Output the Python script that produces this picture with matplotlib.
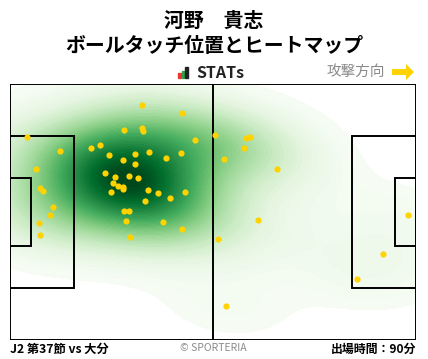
import matplotlib.pyplot as plt
import numpy as np
from matplotlib.patches import Rectangle, FancyArrow

plt.rcParams['font.family'] = ['Noto Sans CJK JP', 'DejaVu Sans']

# ball touch positions in metres (x along pitch, y from the top touchline)
touch_x = [34.2, 44.6, 4.5, 29.6, 34.2, 34.5, 47.9, 53.1, 13.0, 21.0, 23.3, 25.7,
           29.3, 32.4, 32.4, 36.0, 40.4, 44.3, 6.8, 24.6, 27.2, 30.9, 33.2, 7.8,
           8.6, 26.7, 28.0, 29.1, 29.3, 26.2, 35.8, 38.4, 45.3, 41.5, 35.0, 11.2,
           10.4, 29.6, 30.9, 7.6, 30.1, 39.6, 7.8, 44.6, 31.1, 53.7, 61.1, 62.1,
           60.6, 55.4, 69.1, 64.2, 55.8, 103.0, 96.5, 89.8]
touch_y = [5.7, 7.8, 14.0, 12.3, 11.8, 12.6, 14.9, 13.6, 17.9, 17.1, 16.3, 18.9,
           20.3, 18.7, 21.3, 18.1, 19.7, 18.4, 22.7, 23.7, 24.8, 24.5, 25.0, 27.7,
           28.5, 26.4, 27.2, 27.4, 28.0, 28.8, 28.2, 29.0, 28.8, 30.4, 31.2, 32.7,
           34.9, 33.8, 33.8, 37.0, 36.4, 36.7, 40.2, 38.6, 40.7, 41.3, 14.4, 14.2,
           17.1, 20.0, 22.7, 36.2, 59.1, 34.9, 45.2, 51.8]

L, W = 105.0, 68.0

fig = plt.figure(figsize=(4.28, 3.59), dpi=100)
ax = fig.add_axes([10 / 428, 19 / 359, 406 / 428, 256 / 359])

# gaussian kde, bandwidth a bit wider than scott's rule
pts = np.vstack([touch_x, touch_y])
n = pts.shape[1]
cov = np.cov(pts) * n ** (-2.0 / 6) * 1.6
inv = np.linalg.inv(cov)
gx, gy = np.meshgrid(np.linspace(0, L, 220), np.linspace(0, W, 150))
grid = np.vstack([gx.ravel(), gy.ravel()])
d = grid[:, :, None] - pts[:, None, :]
q = np.einsum('ijk,il,ljk->jk', d, inv, d)
dens = np.exp(-0.5 * q).sum(axis=1).reshape(gx.shape)
dens = dens / dens.max()
levels = np.linspace(0.03, 1.0, 60)
ax.contourf(gx, gy, dens, levels=levels, cmap='Greens', extend='max')

ax.scatter(touch_x, touch_y, s=20, color='#ffd200', zorder=5, linewidths=0)

lw = 1.4
ax.add_patch(Rectangle((0, 0), L, W, fill=False, lw=lw, ec='black', zorder=4))
ax.plot([L / 2, L / 2], [0, W], color='black', lw=lw, zorder=4)
for x0, w in [(0, 16.5), (L - 16.5, 16.5)]:
    ax.add_patch(Rectangle((x0, W / 2 - 20.16), w, 40.32, fill=False, lw=lw, ec='black', zorder=4))
for x0, w in [(0, 5.5), (L - 5.5, 5.5)]:
    ax.add_patch(Rectangle((x0, W / 2 - 9.16), w, 18.32, fill=False, lw=lw, ec='black', zorder=4))

ax.set_xlim(0, L)
ax.set_ylim(W, 0)
ax.set_xticks([])
ax.set_yticks([])
for s in ax.spines.values():
    s.set_visible(False)

fig.text(0.5, 1 - 20 / 359, '河野\u3000貴志', ha='center', va='center', fontsize=14.3, fontweight='bold')
fig.text(0.5, 1 - 46 / 359, 'ボールタッチ位置とヒートマップ', ha='center', va='center', fontsize=14.3, fontweight='bold')

# STATs logo
for i, (c, h) in enumerate([('#e8382f', 5), ('#2aa14a', 7), ('#222222', 11)]):
    fig.patches.append(Rectangle(((178 + i * 3.6) / 428, (359 - 78) / 359), 2.6 / 428, h / 359,
                                 transform=fig.transFigure, color=c))
fig.text(196 / 428, 1 - 73 / 359, 'STATs', ha='left', va='center', fontsize=11.5,
         fontweight='bold', color='#222222')
fig.text(385 / 428, 1 - 72 / 359, '攻撃方向', ha='right', va='center', fontsize=10.5, color='#8a8a8a')
fig.patches.append(FancyArrow(392 / 428, 1 - 72 / 359, 14 / 428, 0, width=6 / 359,
                              head_width=16 / 359, head_length=8 / 428,
                              length_includes_head=False, transform=fig.transFigure,
                              color='#ffd200', lw=0))

fig.text(10 / 428, 1 - 349 / 359, 'J2 第37節 vs 大分', ha='left', va='center', fontsize=8.8, fontweight='bold')
fig.text(213 / 428, 1 - 348 / 359, '© SPORTERIA', ha='center', va='center', fontsize=7.5, color='#8a8a8a')
fig.text(416 / 428, 1 - 349 / 359, '出場時間：90分', ha='right', va='center', fontsize=8.6, fontweight='bold')

fig.savefig('out.png', dpi=100, facecolor='white')
